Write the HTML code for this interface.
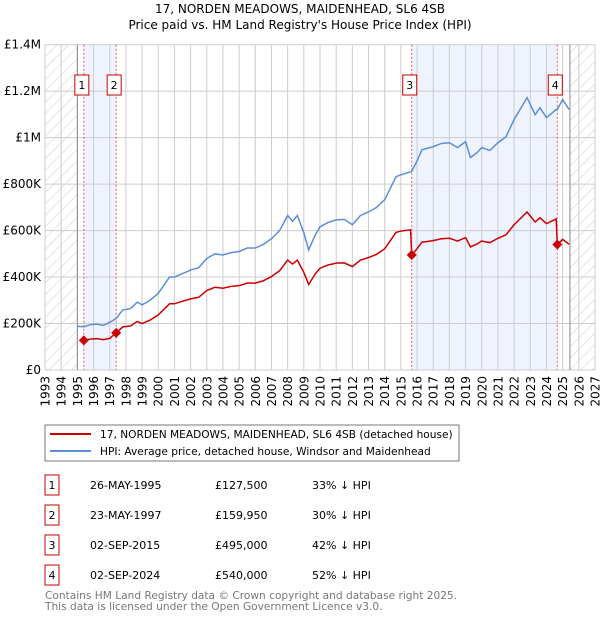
<!DOCTYPE html>
<html><head><meta charset="utf-8"><style>
body{margin:0;background:#fff;font-family:"DejaVu Sans","Liberation Sans",sans-serif;}
svg{display:block}
</style></head><body>
<svg id="chart" width="600" height="620" font-family="DejaVu Sans, Liberation Sans, sans-serif">
<defs><pattern id="hatch" width="8" height="8" patternUnits="userSpaceOnUse" patternTransform="rotate(45)"><line x1="0" y1="0" x2="0" y2="8" stroke="#ccc" stroke-width="1"/></pattern></defs>
<text x="300" y="13" text-anchor="middle" font-size="12">17, NORDEN MEADOWS, MAIDENHEAD, SL6 4SB</text>
<text x="300" y="29" text-anchor="middle" font-size="12">Price paid vs. HM Land Registry's House Price Index (HPI)</text>
<g id="plot"></g>
<rect x="45" y="425" width="414" height="36" fill="#fff" stroke="#777"/>
<line x1="50" y1="434" x2="91" y2="434" stroke="#cc0000" stroke-width="2"/>
<text x="100" y="438" font-size="10.6">17, NORDEN MEADOWS, MAIDENHEAD, SL6 4SB (detached house)</text>
<line x1="50" y1="451" x2="91" y2="451" stroke="#5b8ed6" stroke-width="2"/>
<text x="100" y="455" font-size="10.6">HPI: Average price, detached house, Windsor and Maidenhead</text>
<g id="table" font-size="11"></g>
<text x="45" y="599" font-size="10.6" fill="#777">Contains HM Land Registry data © Crown copyright and database right 2025.</text>
<text x="45" y="610" font-size="10.6" fill="#777">This data is licensed under the Open Government Licence v3.0.</text>
</svg>
<script>
const years=[1995,1995.4,1995.8,1996.2,1996.6,1997,1997.4,1997.8,1998.3,1998.7,1999,1999.5,2000,2000.7,2001,2001.5,2002,2002.5,2003,2003.5,2004,2004.5,2005,2005.5,2006,2006.5,2007,2007.5,2008,2008.3,2008.6,2009,2009.3,2009.7,2010,2010.5,2011,2011.5,2012,2012.5,2013,2013.5,2014,2014.7,2015,2015.6,2015.67,2016,2016.3,2017,2017.5,2018,2018.5,2019,2019.3,2019.7,2020,2020.5,2021,2021.5,2022,2022.8,2023.3,2023.6,2024,2024.6,2024.67,2025,2025.4];
const hpiValues=[188,186,195,198,192,205,222,258,265,292,280,300,330,400,400,415,430,440,480,500,495,505,510,525,525,540,565,600,665,640,665,590,517,580,616,635,646,648,625,665,680,700,733,832,840,853,855,900,948,961,975,978,957,983,914,935,957,945,978,1004,1078,1172,1099,1129,1086,1121,1121,1164,1121];
const priceYears=[1995.4,1995.8,1996.2,1996.6,1997,1997.4,1997.8,1998.3,1998.7,1999,1999.5,2000,2000.7,2001,2001.5,2002,2002.5,2003,2003.5,2004,2004.5,2005,2005.5,2006,2006.5,2007,2007.5,2008,2008.3,2008.6,2009,2009.3,2009.7,2010,2010.5,2011,2011.5,2012,2012.5,2013,2013.5,2014,2014.7,2015,2015.6,2015.67,2016,2016.3,2017,2017.5,2018,2018.5,2019,2019.3,2019.7,2020,2020.5,2021,2021.5,2022,2022.8,2023.3,2023.6,2024,2024.6,2024.67,2025,2025.4];
const priceValues=[127.5,133,135,131,136,160,185,190,209,200,215,237,285,285,296,306,313,342,356,352,360,363,374,374,384,402,427,473,456,473,420,368,413,438,452,460,461,445,473,484,498,522,592,598,603,495,522,550,557,565,567,555,570,530,542,555,548,567,582,625,680,637,655,630,650,540,562,541];
const saleYears=[1995.4,1997.4,2015.67,2024.67];
const saleValues=[127.5,159.95,495,540];
const saleLabels=["1","2","3","4"];
const saleDates=["26-MAY-1995","23-MAY-1997","02-SEP-2015","02-SEP-2024"];
const salePrices=["£127,500","£159,950","£495,000","£540,000"];
const saleDiffs=["33% ↓ HPI","30% ↓ HPI","42% ↓ HPI","52% ↓ HPI"];
const yTicks=[0,200,400,600,800,1000,1200,1400];
const yTickLabels=["£0","£200K","£400K","£600K","£800K","£1M","£1.2M","£1.4M"];

const NS="http://www.w3.org/2000/svg";
const X0=45,X1=595,Y0=370,Y1=44.7;
const xs=y=>X0+(y-1993)*(X1-X0)/34;
const ys=v=>Y0-v*(Y0-Y1)/1400;
const plot=document.getElementById('plot');
function mk(tag,attrs,parent){const e=document.createElementNS(NS,tag);for(const k in attrs)e.setAttribute(k,attrs[k]);(parent||plot).appendChild(e);return e;}

let e;
e=mk('rect',{x:xs(1993),y:Y1,width:xs(1995)-xs(1993),height:Y0-Y1,fill:'url(#hatch)'});


e=mk('rect',{x:xs(2025.45),y:Y1,width:X1-xs(2025.45),height:Y0-Y1,fill:'url(#hatch)'});


e=mk('rect',{x:xs(saleYears[0]),y:Y1,width:xs(saleYears[1])-xs(saleYears[0]),height:Y0-Y1,fill:'#eaf0fc',opacity:0.8});


e=mk('rect',{x:xs(saleYears[2]),y:Y1,width:xs(saleYears[3])-xs(saleYears[2]),height:Y0-Y1,fill:'#eaf0fc',opacity:0.8});



for(let yr=1993;yr<=2027;yr++){
  e=mk('line',{x1:xs(yr),x2:xs(yr),y1:Y1,y2:Y0,stroke:'#ccc','stroke-width':1});
  
  
  e=mk('text',{x:0,y:0,'font-size':12,'text-anchor':'end',transform:`translate(${xs(yr)+4.5},${Y0+6}) rotate(-90)`});
  e.textContent=yr;
  
  
}
yTicks.forEach((v,i)=>{
  e=mk('line',{x1:X0,x2:X1,y1:ys(v),y2:ys(v),stroke:'#ccc','stroke-width':1});
  
  
  e=mk('text',{x:X0-4,y:ys(v)+4,'font-size':12,'text-anchor':'end'});
  e.textContent=yTickLabels[i];
  
  
});
e=mk('line',{x1:xs(1995),x2:xs(1995),y1:Y1,y2:Y0,stroke:'#888'});


e=mk('line',{x1:xs(2025.45),x2:xs(2025.45),y1:Y1,y2:Y0,stroke:'#888'});



saleYears.forEach((yr,i)=>{
  e=mk('line',{x1:xs(yr),x2:xs(yr),y1:Y1,y2:Y0,stroke:'#e06060','stroke-dasharray':'2,2'});
  
  
});

e=mk('polyline',{points:years.map((y,i)=>xs(y)+','+ys(hpiValues[i])).join(' '),fill:'none',stroke:'#5b8ed6','stroke-width':1.5});


e=mk('polyline',{points:priceYears.map((y,i)=>xs(y)+','+ys(priceValues[i])).join(' '),fill:'none',stroke:'#cc0000','stroke-width':1.5});



saleYears.forEach((yr,i)=>{
  const cx=xs(yr),cy=ys(saleValues[i]);
  e=mk('polygon',{points:`${cx},${cy-5} ${cx+5},${cy} ${cx},${cy+5} ${cx-5},${cy}`,fill:'#cc0000'});
  
  
  e=mk('rect',{x:cx-2-7,y:75,width:14,height:20,fill:'#fff',stroke:'#cc0000'});
  
  
  e=mk('text',{x:cx-2,y:89,'font-size':11,'text-anchor':'middle'});
  e.textContent=saleLabels[i];
  
  
});

const tbl=document.getElementById('table');
saleLabels.forEach((l,i)=>{
  const y=475+i*30;
  e=mk('rect',{x:45,y:y,width:14,height:20,fill:'#fff',stroke:'#cc0000'},tbl);
  
  
  e=mk('text',{x:52,y:y+14,'text-anchor':'middle'},tbl);e.textContent=l;
  
  
  e=mk('text',{x:90,y:y+14},tbl);e.textContent=saleDates[i];
  
  
  e=mk('text',{x:215,y:y+14},tbl);e.textContent=salePrices[i];
  
  
  e=mk('text',{x:312,y:y+14},tbl);e.textContent=saleDiffs[i];
  
  
});
</script>
</body></html>
